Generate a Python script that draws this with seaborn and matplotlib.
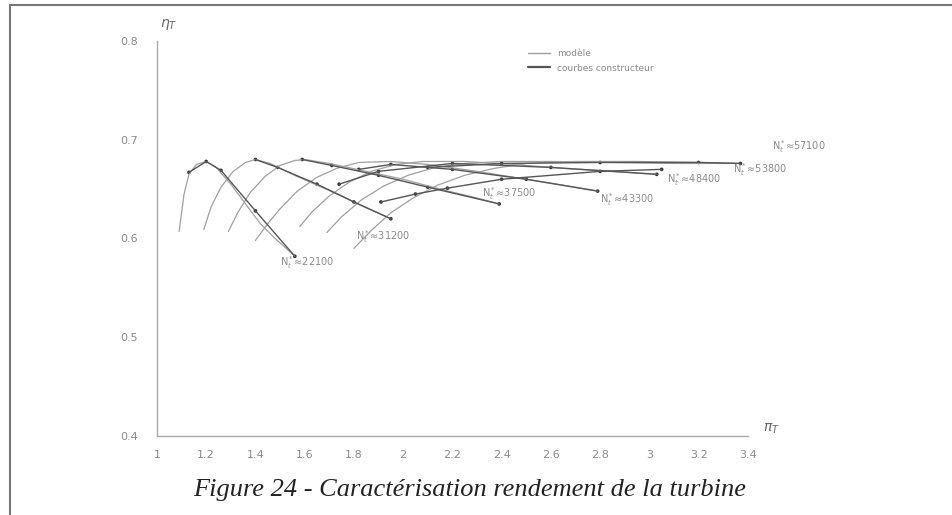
import pandas as pd
import matplotlib.pyplot as plt
import seaborn as sns
from matplotlib.lines import Line2D

# Courbes "modèle" (rendement turbine vs taux de détente)
speeds = ['22100', '31200', '37500', '43300', '48400', '53800', '57100']

x_22100 = [1.09, 1.11, 1.13, 1.16, 1.20, 1.24, 1.30, 1.36, 1.42, 1.48, 1.56]
y_22100 = [0.607, 0.645, 0.665, 0.675, 0.678, 0.672, 0.655, 0.635, 0.615, 0.600, 0.582]
x_31200 = [1.19, 1.22, 1.26, 1.31, 1.36, 1.40, 1.46, 1.55, 1.65, 1.75, 1.85, 1.95]
y_31200 = [0.609, 0.632, 0.652, 0.668, 0.677, 0.680, 0.676, 0.665, 0.654, 0.643, 0.631, 0.620]
x_37500 = [1.29, 1.33, 1.38, 1.44, 1.50, 1.56, 1.60, 1.70, 1.85, 2.00, 2.15, 2.30, 2.39]
y_37500 = [0.607, 0.627, 0.647, 0.663, 0.674, 0.679, 0.680, 0.676, 0.668, 0.660, 0.650, 0.641, 0.635]
x_43300 = [1.40, 1.45, 1.50, 1.57, 1.65, 1.73, 1.82, 1.95, 2.10, 2.30, 2.50, 2.65, 2.79]
y_43300 = [0.598, 0.615, 0.630, 0.648, 0.662, 0.671, 0.677, 0.678, 0.675, 0.668, 0.660, 0.654, 0.648]
x_48400 = [1.58, 1.63, 1.70, 1.78, 1.87, 1.97, 2.08, 2.25, 2.45, 2.65, 2.85, 3.03]
y_48400 = [0.612, 0.627, 0.643, 0.657, 0.668, 0.675, 0.678, 0.678, 0.675, 0.671, 0.668, 0.665]
x_53800 = [1.69, 1.75, 1.83, 1.92, 2.02, 2.13, 2.25, 2.40, 2.60, 2.85, 3.10, 3.35]
y_53800 = [0.606, 0.622, 0.639, 0.653, 0.664, 0.672, 0.676, 0.678, 0.678, 0.677, 0.676, 0.676]
x_57100 = [1.80, 1.87, 1.95, 2.04, 2.14, 2.25, 2.37, 2.50, 2.70, 2.95, 3.20, 3.37]
y_57100 = [0.590, 0.608, 0.626, 0.641, 0.654, 0.664, 0.671, 0.676, 0.678, 0.678, 0.677, 0.676]

# Courbes constructeur (points repérés)
cx_22100 = [1.13, 1.20, 1.26, 1.40, 1.56]
cy_22100 = [0.667, 0.678, 0.669, 0.628, 0.582]
cx_31200 = [1.40, 1.49, 1.65, 1.80, 1.95]
cy_31200 = [0.680, 0.672, 0.655, 0.637, 0.620]
cx_37500 = [1.59, 1.71, 1.90, 2.10, 2.39]
cy_37500 = [0.680, 0.674, 0.664, 0.652, 0.635]
cx_43300 = [1.82, 1.95, 2.20, 2.50, 2.79]
cy_43300 = [0.670, 0.675, 0.670, 0.660, 0.648]
cx_48400 = [1.74, 1.90, 2.20, 2.60, 3.03]
cy_48400 = [0.655, 0.668, 0.676, 0.672, 0.665]
cx_53800 = [1.91, 2.05, 2.18, 2.40, 2.80, 3.05]
cy_53800 = [0.637, 0.645, 0.651, 0.660, 0.668, 0.670]
cx_57100 = [2.10, 2.40, 2.80, 3.20, 3.37]
cy_57100 = [0.672, 0.676, 0.677, 0.677, 0.676]

# Etiquettes des vitesses réduites (position en coordonnées données)
label_x = [1.50, 1.81, 2.32, 2.80, 3.07, 3.34, 3.50]
label_y = [0.572, 0.598, 0.642, 0.636, 0.656, 0.666, 0.690]

x_ticks = [1, 1.2, 1.4, 1.6, 1.8, 2, 2.2, 2.4, 2.6, 2.8, 3, 3.2, 3.4]
x_ticklabels = ['1', '1.2', '1.4', '1.6', '1.8', '2', '2.2', '2.4', '2.6', '2.8', '3', '3.2', '3.4']
y_ticks = [0.4, 0.5, 0.6, 0.7, 0.8]
y_ticklabels = ['0.4', '0.5', '0.6', '0.7', '0.8']

model = {'22100': (x_22100, y_22100), '31200': (x_31200, y_31200), '37500': (x_37500, y_37500),
         '43300': (x_43300, y_43300), '48400': (x_48400, y_48400), '53800': (x_53800, y_53800),
         '57100': (x_57100, y_57100)}
constr = {'22100': (cx_22100, cy_22100), '31200': (cx_31200, cy_31200), '37500': (cx_37500, cy_37500),
          '43300': (cx_43300, cy_43300), '48400': (cx_48400, cy_48400), '53800': (cx_53800, cy_53800),
          '57100': (cx_57100, cy_57100)}

df_model = pd.concat([pd.DataFrame({'pi': model[s][0], 'eta': model[s][1], 'N': s}) for s in speeds])
df_constr = pd.concat([pd.DataFrame({'pi': constr[s][0], 'eta': constr[s][1], 'N': s}) for s in speeds])

sns.set_theme(style="white")
plt.rcParams['font.family'] = ['DejaVu Sans']

fig = plt.figure(figsize=(9.53, 5.15), dpi=100)
ax = fig.add_axes([0.1647, 0.1534, 0.620, 0.767])

grey = '#a0a0a0'
dark = '#555555'
txt = '#8a8a8a'

sns.lineplot(data=df_model, x='pi', y='eta', units='N', estimator=None, sort=False,
             color=grey, lw=0.9, ax=ax)
sns.lineplot(data=df_constr, x='pi', y='eta', units='N', estimator=None, sort=False,
             color=dark, lw=1.0, ax=ax)
sns.scatterplot(data=df_constr, x='pi', y='eta', color='#333333', s=7, edgecolor='none', ax=ax)

for s, lx, ly in zip(speeds, label_x, label_y):
    ax.text(lx, ly, 'N$^*_t$\u2248' + s, fontsize=7, color=txt, clip_on=False)

ax.set_xlim(1, 3.385)
ax.set_ylim(0.4, 0.8)
ax.set_xticks(x_ticks)
ax.set_xticklabels(x_ticklabels)
ax.set_yticks(y_ticks)
ax.set_yticklabels(y_ticklabels)
ax.tick_params(axis='x', direction='in', length=4, color='#bbbbbb', labelcolor=txt, labelsize=8, pad=10)
ax.tick_params(axis='y', direction='in', length=7, width=1.5, color='#777777', labelcolor=txt, labelsize=8, pad=14)
ax.set_xlabel('')
ax.set_ylabel('')
for side in ['top', 'right']:
    ax.spines[side].set_visible(False)
for side in ['left', 'bottom']:
    ax.spines[side].set_color('#aaaaaa')
    ax.spines[side].set_linewidth(1)

ax.text(0.005, 1.035, r'$\eta_T$', transform=ax.transAxes, fontsize=10, color='#666666')
ax.text(1.025, 0.01, r'$\pi_T$', transform=ax.transAxes, fontsize=10, color='#666666', clip_on=False)

handles = [Line2D([], [], color=grey, lw=1.0), Line2D([], [], color=dark, lw=1.6)]
ax.legend(handles, ['modèle', 'courbes constructeur'], loc='upper left', bbox_to_anchor=(0.615, 1.0),
          frameon=False, fontsize=6.5, labelcolor=txt, handlelength=2.4, labelspacing=0.6)

# cadre de la page scannée
fig.add_artist(Line2D([0.0105, 0.0105], [0.0, 0.990], transform=fig.transFigure, color='#777777', lw=1.5))
fig.add_artist(Line2D([0.0105, 1.0], [0.990, 0.990], transform=fig.transFigure, color='#777777', lw=1.5))

fig.text(0.493, 0.048, 'Figure 24 - Caractérisation rendement de la turbine', ha='center', va='center',
         fontsize=19, style='italic', family=['Liberation Serif', 'DejaVu Serif'], color='#222222')

plt.savefig('out.png', dpi=100)
